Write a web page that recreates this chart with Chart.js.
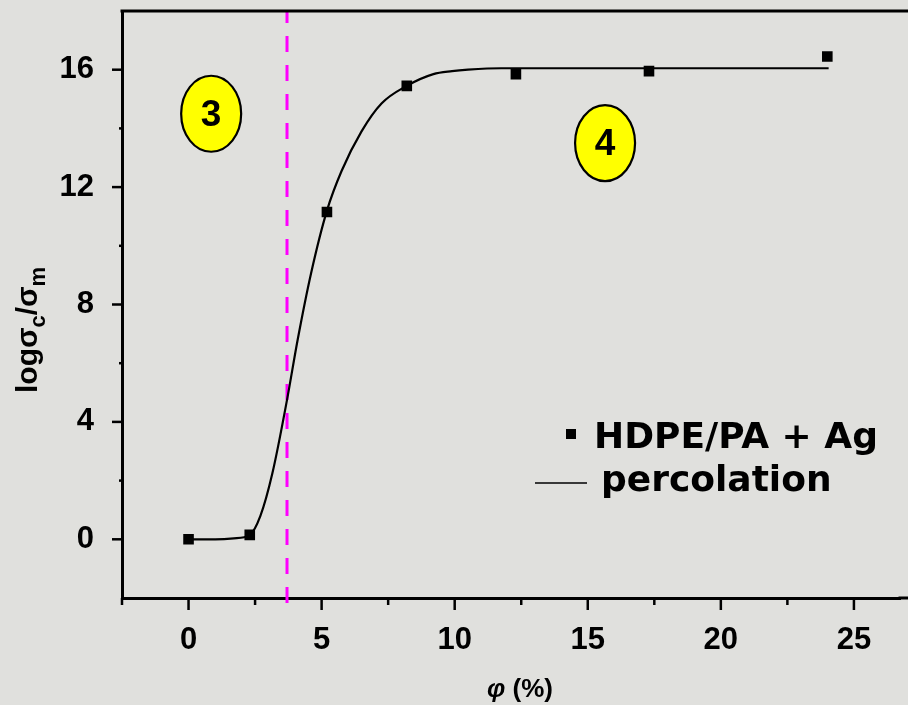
<!DOCTYPE html>
<html>
<head>
<meta charset="utf-8">
<script src="https://cdn.jsdelivr.net/npm/chart.js@4.4.1/dist/chart.umd.min.js"></script>
<style>
  html, body { margin: 0; padding: 0; background: #e0e0dd; overflow: hidden; }
  canvas { display: block; }
</style>
</head>
<body>
<canvas id="percChart" width="908" height="705"></canvas>
<script>
// measured points (phi in %, log sigma_c/sigma_m)
const phiData = [0, 2.3, 5.2, 8.2, 12.3, 17.3, 24.0];
const logData = [0, 0.15, 11.15, 15.45, 15.85, 15.95, 16.45];

// percolation fit curve
const fitPhi = [0, 1.0, 1.7, 2.3, 2.7, 3.15, 3.7, 4.1, 4.6, 5.2, 5.75, 6.5, 7.25, 8.2, 9.2, 9.9, 10.5, 11.75, 14, 18, 24.05];
const fitLog = [0, 0, 0.03, 0.15, 0.8, 2.25, 4.75, 6.8, 9.05, 11.2, 12.55, 13.9, 14.85, 15.45, 15.85, 15.95, 16.0, 16.05, 16.05, 16.05, 16.05];

// percolation threshold (dashed line)
const phiC = 3.7;
const thresholdLog = [-2.17, 18];

// region markers
const regionNames = ['3', '4'];
const regionPhi = [0.85, 15.65];
const regionLog = [14.5, 13.5];

const xTickLabels = [0, 5, 10, 15, 20, 25];
const yTickLabels = [0, 4, 8, 12, 16];

const seriesName = 'HDPE/PA + Ag';
const fitName = 'percolation';

const tickFont = { family: 'Liberation Sans', size: 31, weight: 'bold' };

const decorations = {
  id: 'decorations',
  afterDraw(chart) {
    const { ctx, chartArea: a, scales: { x, y } } = chart;
    ctx.save();

    // top frame line, and bottom axis running on to the edge (figure is cropped)
    ctx.strokeStyle = '#000';
    ctx.lineWidth = 3;
    ctx.beginPath();
    ctx.moveTo(a.left - 1.5, a.top);
    ctx.lineTo(chart.width, a.top);
    ctx.moveTo(a.right - 2, a.bottom);
    ctx.lineTo(chart.width, a.bottom);
    ctx.stroke();

    // tick marks (major + minor)
    ctx.lineWidth = 2.5;
    for (let i = -1; i * 2.5 <= x.max; i++) {
      const px = x.getPixelForValue(i * 2.5);
      const len = i % 2 === 0 ? 12 : 7;
      ctx.beginPath();
      ctx.moveTo(px, a.bottom);
      ctx.lineTo(px, a.bottom + len);
      ctx.stroke();
    }
    for (let v = 0; v <= 16; v += 2) {
      const py = y.getPixelForValue(v);
      const len = v % 4 === 0 ? 10 : 3;
      ctx.beginPath();
      ctx.moveTo(a.left, py);
      ctx.lineTo(a.left - len, py);
      ctx.stroke();
    }

    // region ellipses
    ctx.textAlign = 'center';
    ctx.textBaseline = 'middle';
    regionNames.forEach((name, i) => {
      const cx = x.getPixelForValue(regionPhi[i]);
      const cy = y.getPixelForValue(regionLog[i]);
      ctx.beginPath();
      ctx.ellipse(cx, cy, 30, 38, 0, 0, Math.PI * 2);
      ctx.fillStyle = '#ffff00';
      ctx.fill();
      ctx.lineWidth = 2.2;
      ctx.strokeStyle = '#000';
      ctx.stroke();
      ctx.fillStyle = '#000';
      ctx.font = 'bold 37px "Liberation Sans"';
      ctx.fillText(name, cx, cy + 2);
    });

    // legend
    ctx.textAlign = 'left';
    ctx.textBaseline = 'alphabetic';
    ctx.fillStyle = '#000';
    ctx.fillRect(566, 429, 10, 10);
    ctx.font = 'bold 36px "DejaVu Sans"';
    ctx.fillText(seriesName, 594, 448);
    ctx.lineWidth = 1.5;
    ctx.beginPath();
    ctx.moveTo(535, 483);
    ctx.lineTo(587, 483);
    ctx.stroke();
    ctx.fillText(fitName, 601, 491);

    // y axis title: log sigma_c / sigma_m
    ctx.translate(37, 393);
    ctx.rotate(-Math.PI / 2);
    const parts = [
      ['log\u03c3', 30, 0], ['c', 22, 8], ['/\u03c3', 30, 0], ['m', 22, 8]
    ];
    let tx = 0;
    parts.forEach(([t, size, dy]) => {
      ctx.font = 'bold ' + size + 'px "Liberation Sans"';
      ctx.fillText(t, tx, dy);
      tx += ctx.measureText(t).width;
    });
    ctx.setTransform(1, 0, 0, 1, 0, 0);

    // x axis title
    ctx.font = 'italic bold 26px "Liberation Sans"';
    ctx.fillText('\u03c6', 487, 697);
    const w = ctx.measureText('\u03c6').width;
    ctx.font = 'bold 26px "Liberation Sans"';
    ctx.fillText(' (%)', 487 + w, 697);

    ctx.restore();
  }
};

const chart = new Chart(document.getElementById('percChart'), {
  type: 'scatter',
  data: {
    datasets: [{
      label: seriesName,
      data: phiData.map((v, i) => ({ x: v, y: logData[i] })),
      pointStyle: 'rect',
      pointRadius: 7.5,
      pointBackgroundColor: '#000',
      pointBorderColor: '#000',
      pointBorderWidth: 0,
      order: 0
    }, {
      type: 'line',
      label: fitName,
      data: fitPhi.map((v, i) => ({ x: v, y: fitLog[i] })),
      borderColor: '#000',
      borderWidth: 2.2,
      pointRadius: 0,
      cubicInterpolationMode: 'monotone',
      fill: false,
      order: 1
    }, {
      type: 'line',
      label: 'threshold',
      data: thresholdLog.map(v => ({ x: phiC, y: v })),
      borderColor: '#ff00ff',
      borderWidth: 3,
      borderDash: [16, 13],
      pointRadius: 0,
      clip: false,
      order: 2
    }]
  },
  options: {
    responsive: false,
    animation: false,
    layout: { padding: { top: 11, left: 0, right: 0, bottom: 0 } },
    plugins: {
      legend: { display: false },
      tooltip: { enabled: false }
    },
    scales: {
      x: {
        type: 'linear',
        min: -2.5,
        max: 26.75,
        grid: { display: false },
        border: { display: true, color: '#000', width: 3 },
        ticks: {
          padding: 16,
          autoSkip: false,
          maxRotation: 0,
          color: '#000',
          font: tickFont,
          callback: v => String(v)
        },
        afterBuildTicks: s => { s.ticks = xTickLabels.map(v => ({ value: v })); },
        afterFit: s => { s.height = 107; s.paddingLeft = 0; s.paddingRight = 0; }
      },
      y: {
        type: 'linear',
        min: -2,
        max: 18,
        grid: { display: false },
        border: { display: true, color: '#000', width: 3 },
        ticks: {
          padding: 20,
          autoSkip: false,
          color: '#000',
          font: tickFont,
          callback: v => String(v)
        },
        afterBuildTicks: s => { s.ticks = yTickLabels.map(v => ({ value: v })); },
        afterFit: s => { s.width = 122; s.paddingTop = 0; s.paddingBottom = 0; }
      }
    }
  },
  plugins: [decorations]
});
</script>
</body>
</html>
